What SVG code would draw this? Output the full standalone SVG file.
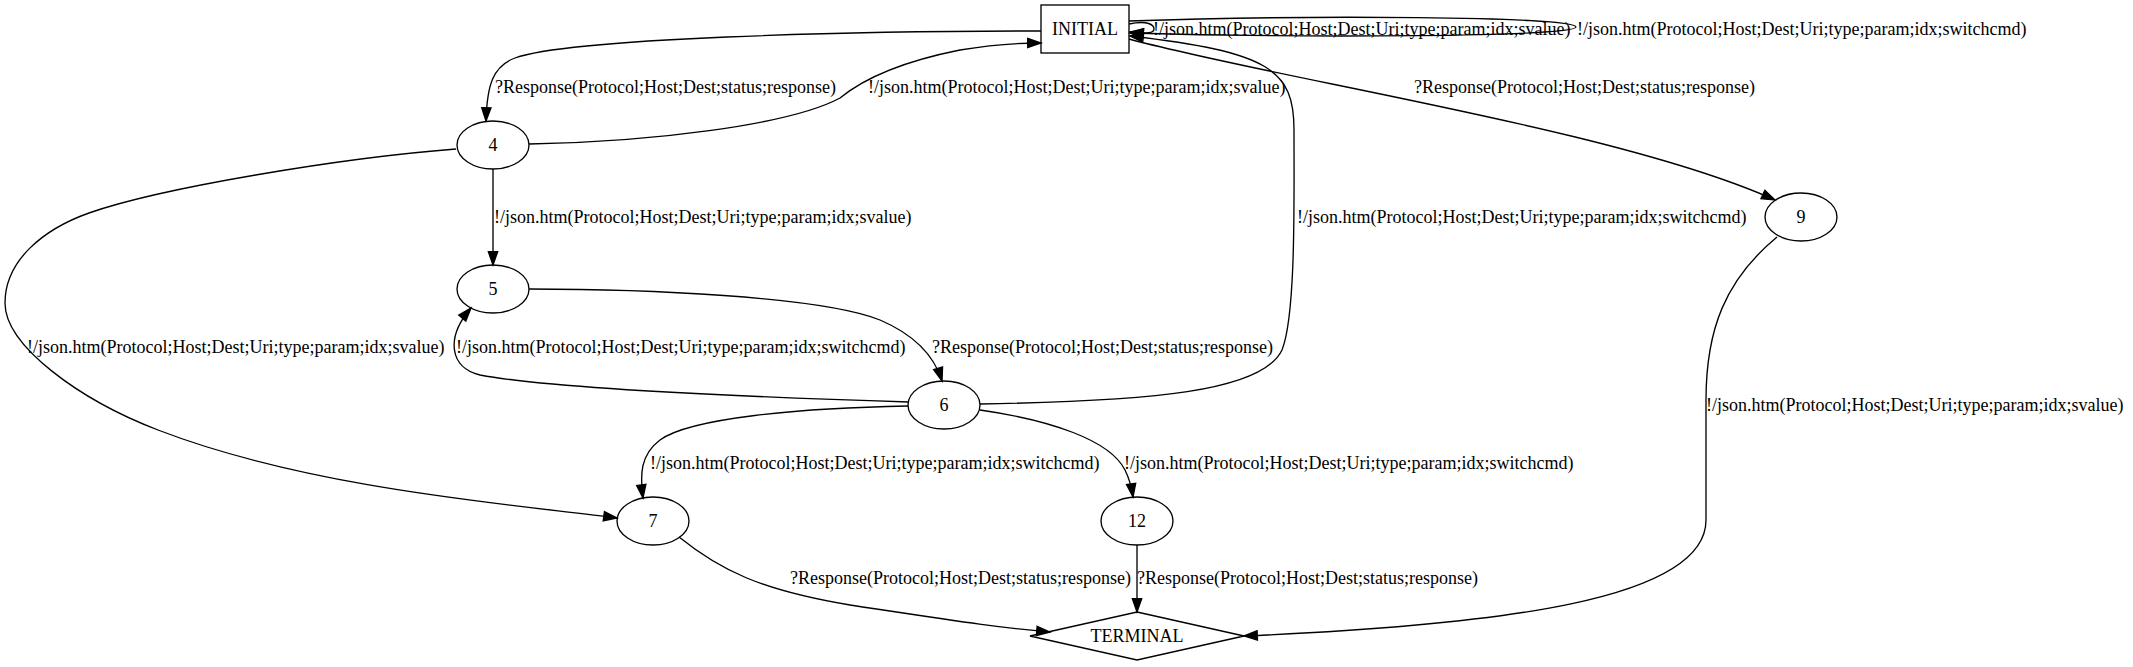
<svg xmlns="http://www.w3.org/2000/svg" width="2133" height="667" viewBox="0 0 2133 667">
<style>
text{font-family:"Liberation Serif","Times New Roman",serif;font-size:18px;fill:#000}
.n{fill:none;stroke:#000;stroke-width:1.33}
.e{fill:none;stroke:#000;stroke-width:1.33;marker-end:url(#ah)}
.c{text-anchor:middle}
</style>
<defs>
<marker id="ah" markerUnits="userSpaceOnUse" markerWidth="16" markerHeight="12" refX="13.3" refY="4.67" orient="auto" overflow="visible">
<path d="M0,0 L13.3,4.67 L0,9.33 Z" fill="#000" stroke="#000" stroke-width="1.33"/>
</marker>
</defs>
<rect width="2133" height="667" fill="#fff"/>
<g id="connectors">
<g id="e-init-init-1"><path class="e" d="M1129,24 C1148,20 1154,25 1154,29 C1154,33 1148,34 1130,32"/><text x="1153" y="35">!/json.htm(Protocol;Host;Dest;Uri;type;param;idx;svalue)</text></g>
<g id="e-init-init-2"><path class="e" d="M1129,21 C1300,15 1576,16 1576,27 C1576,37 1300,38 1130,33"/><text x="1577" y="35">!/json.htm(Protocol;Host;Dest;Uri;type;param;idx;switchcmd)</text></g>
<g id="e-init-4"><path class="e" d="M1041,31 C850,31 570,38 515,58 C493,66 487,85 486,121"/><text x="495" y="93">?Response(Protocol;Host;Dest;status;response)</text></g>
<g id="e-4-init"><path class="e" d="M529,144 C650,142 790,125 840,98 C862,80 900,62 960,50 C990,45 1015,43 1041,43"/><text x="868" y="93">!/json.htm(Protocol;Host;Dest;Uri;type;param;idx;svalue)</text></g>
<g id="e-init-9"><path class="e" d="M1129,39 C1280,80 1620,130 1775,200"/><text x="1414" y="93">?Response(Protocol;Host;Dest;status;response)</text></g>
<g id="e-4-5"><path class="e" d="M493,169 L493,265"/><text x="494" y="223">!/json.htm(Protocol;Host;Dest;Uri;type;param;idx;svalue)</text></g>
<g id="e-6-init"><path class="e" d="M980,404 C1150,401 1262,392 1282,350 C1296,315 1294,200 1294,130 C1294,70 1270,52 1130,36"/><text x="1297" y="223">!/json.htm(Protocol;Host;Dest;Uri;type;param;idx;switchcmd)</text></g>
<g id="e-4-7"><path class="e" d="M456,149 C340,158 160,188 89,213 C44,229 5,260 5,303 C5,346 80,400 158,430 C314,490 520,505 617,518"/><text x="27" y="353">!/json.htm(Protocol;Host;Dest;Uri;type;param;idx;svalue)</text></g>
<g id="e-6-5"><path class="e" d="M909,402 C780,398 560,390 480,375 C450,368 445,338 471,308"/><text x="456" y="353">!/json.htm(Protocol;Host;Dest;Uri;type;param;idx;switchcmd)</text></g>
<g id="e-5-6"><path class="e" d="M529,289 C640,289 820,296 880,320 C915,335 934,355 942,381"/><text x="932" y="353">?Response(Protocol;Host;Dest;status;response)</text></g>
<g id="e-9-term"><path class="e" d="M1777,237 C1725,280 1706,330 1706,400 L1706,520 C1706,600 1500,625 1244,636"/><text x="1706" y="411">!/json.htm(Protocol;Host;Dest;Uri;type;param;idx;svalue)</text></g>
<g id="e-6-7"><path class="e" d="M908,406 C800,408 690,418 660,440 C640,455 640,475 643,498"/><text x="650" y="469">!/json.htm(Protocol;Host;Dest;Uri;type;param;idx;switchcmd)</text></g>
<g id="e-6-12"><path class="e" d="M980,410 C1050,420 1110,440 1125,470 C1130,480 1132,490 1133,497"/><text x="1124" y="469">!/json.htm(Protocol;Host;Dest;Uri;type;param;idx;switchcmd)</text></g>
<g id="e-7-term"><path class="e" d="M679,537 C720,570 760,590 850,605 C950,620 1000,628 1050,632"/><text x="790" y="584">?Response(Protocol;Host;Dest;status;response)</text></g>
<g id="e-12-term"><path class="e" d="M1137,545 L1137,612"/><text x="1137" y="584">?Response(Protocol;Host;Dest;status;response)</text></g>
</g>
<g id="node-INITIAL"><rect class="n" x="1041" y="5" width="88" height="48"/><text class="c" x="1085" y="35">INITIAL</text></g>
<g id="node-4"><ellipse class="n" cx="493" cy="145" rx="36" ry="24"/><text class="c" x="493" y="151">4</text></g>
<g id="node-5"><ellipse class="n" cx="493" cy="289" rx="36" ry="24"/><text class="c" x="493" y="295">5</text></g>
<g id="node-6"><ellipse class="n" cx="944" cy="405" rx="36" ry="24"/><text class="c" x="944" y="411">6</text></g>
<g id="node-7"><ellipse class="n" cx="653" cy="521" rx="36" ry="24"/><text class="c" x="653" y="527">7</text></g>
<g id="node-12"><ellipse class="n" cx="1137" cy="521" rx="36" ry="24"/><text class="c" x="1137" y="527">12</text></g>
<g id="node-9"><ellipse class="n" cx="1801" cy="217" rx="36" ry="24"/><text class="c" x="1801" y="223">9</text></g>
<g id="node-TERMINAL"><polygon class="n" points="1137,612 1244,636 1137,660 1030,636"/><text class="c" x="1137" y="642">TERMINAL</text></g>
</svg>
